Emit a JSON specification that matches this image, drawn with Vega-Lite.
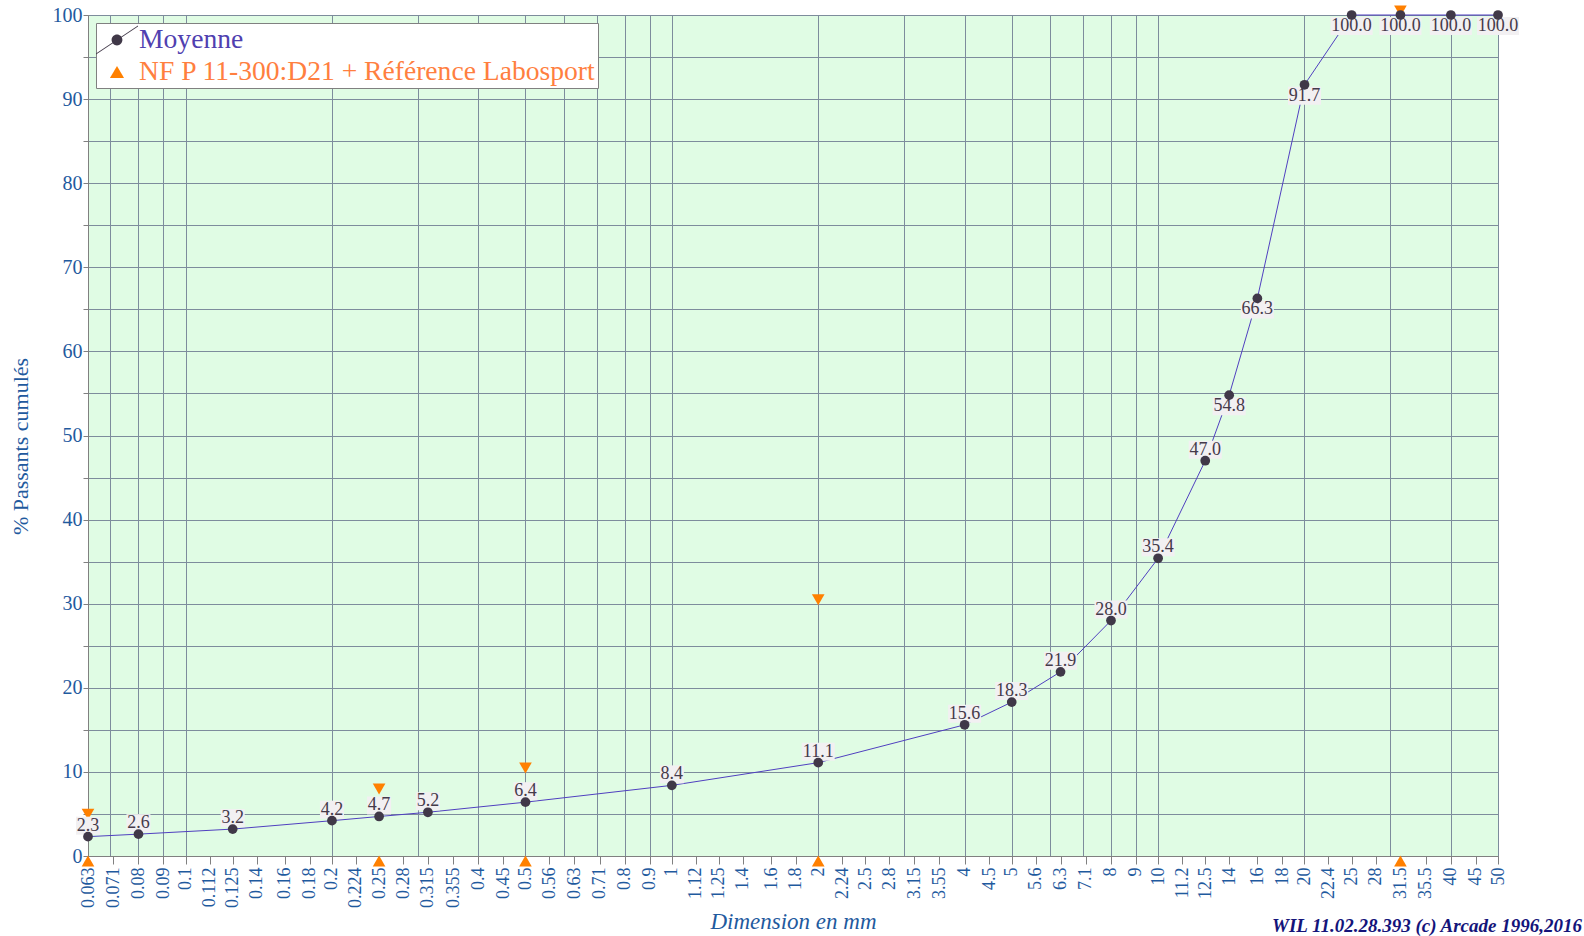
{
  "$schema": "https://vega.github.io/schema/vega-lite/v6.json",
  "width": 1410,
  "height": 841,
  "autosize": {"type": "none"},
  "padding": {"left": 88, "top": 15, "right": 86, "bottom": 80},
  "background": "white",
  "config": {
    "font": "Liberation Serif",
    "view": {"fill": "#e0fce4", "stroke": "#808080", "strokeWidth": 1}
  },
  "title": {
    "text": "WIL 11.02.28.393 (c) Arcade 1996,2016",
    "orient": "bottom",
    "anchor": "end",
    "frame": "group",
    "font": "Liberation Serif",
    "fontSize": 19,
    "fontStyle": "italic",
    "fontWeight": "bold",
    "color": "#14147a",
    "dx": 84,
    "dy": -17,
    "offset": 0
  },
  "datasets": {
    "moy": [
      {"d": 0.063, "p": 2.3}, {"d": 0.08, "p": 2.6}, {"d": 0.125, "p": 3.2},
      {"d": 0.2, "p": 4.2}, {"d": 0.25, "p": 4.7}, {"d": 0.315, "p": 5.2},
      {"d": 0.5, "p": 6.4}, {"d": 1, "p": 8.4}, {"d": 2, "p": 11.1},
      {"d": 4, "p": 15.6}, {"d": 5, "p": 18.3}, {"d": 6.3, "p": 21.9},
      {"d": 8, "p": 28.0}, {"d": 10, "p": 35.4}, {"d": 12.5, "p": 47.0},
      {"d": 14, "p": 54.8}, {"d": 16, "p": 66.3}, {"d": 20, "p": 91.7},
      {"d": 25, "p": 100}, {"d": 31.5, "p": 100}, {"d": 40, "p": 100}, {"d": 50, "p": 100}
    ],
    "nf": [
      {"d": 0.063, "lo": 0, "hi": 4.5},
      {"d": 0.25, "lo": 0, "hi": 7.5},
      {"d": 0.5, "lo": 0, "hi": 10},
      {"d": 2, "lo": 0, "hi": 30},
      {"d": 31.5, "lo": 0, "hi": 100}
    ]
  },
  "layer": [
    {
      "data": {"name": "moy"},
      "mark": {"type": "line", "color": "#5040c0", "strokeWidth": 1},
      "encoding": {
        "x": {
          "field": "d", "type": "quantitative",
          "scale": {"type": "log", "domain": [0.063, 50], "nice": false},
          "axis": {
            "orient": "bottom",
            "values": [0.07, 0.08, 0.09, 0.1, 0.2, 0.3, 0.4, 0.5, 0.6, 0.7, 0.8, 0.9, 1, 2, 3, 4, 5, 6, 7, 8, 9, 10, 20, 30, 40, 50],
            "grid": true, "gridColor": "#7d8c9c", "gridOpacity": 1,
            "labels": false, "ticks": false, "domain": false, "title": null
          }
        },
        "y": {
          "field": "p", "type": "quantitative",
          "scale": {"domain": [0, 100], "nice": false},
          "title": "% Passants cumulés",
          "axis": {
            "values": [0, 5, 10, 15, 20, 25, 30, 35, 40, 45, 50, 55, 60, 65, 70, 75, 80, 85, 90, 95, 100],
            "labelExpr": "datum.value % 10 === 0 ? datum.label : ''",
            "grid": true, "gridColor": "#7d8c9c", "gridOpacity": 1,
            "tickSize": 5, "tickColor": "#808080", "domainColor": "#808080",
            "labelFont": "Liberation Serif", "labelFontSize": 20, "labelColor": "#1f5a9e", "labelPadding": 1,
            "titleFont": "Liberation Serif", "titleFontSize": 22, "titleFontWeight": "normal", "titleColor": "#1f5a9e",
            "titlePadding": 20, "titleY": 431
          }
        }
      }
    },
    {
      "data": {"name": "nf"},
      "mark": {"type": "point", "shape": "triangle-down", "filled": true, "opacity": 1, "size": 160, "yOffset": -4, "color": "#ff8000"},
      "encoding": {
        "x": {"field": "d", "type": "quantitative", "axis": null},
        "y": {"field": "hi", "type": "quantitative", "title": "% Passants cumulés"}
      }
    },
    {
      "data": {"name": "nf"},
      "mark": {"type": "point", "shape": "triangle-up", "filled": true, "opacity": 1, "size": 160, "yOffset": 5, "color": "#ff8000"},
      "encoding": {
        "x": {"field": "d", "type": "quantitative", "axis": null},
        "y": {"field": "lo", "type": "quantitative", "title": "% Passants cumulés"}
      }
    },
    {
      "data": {"name": "moy"},
      "transform": [{"filter": "datum.p <= 50"}],
      "mark": {"type": "point", "filled": true, "opacity": 1, "size": 400, "color": "#f2f0f2"},
      "encoding": {
        "x": {"field": "d", "type": "quantitative", "axis": null},
        "y": {"field": "p", "type": "quantitative", "title": "% Passants cumulés"},
        "shape": {
          "condition": [
            {"test": "datum.p < 10", "value": "M -1.2 -2 H 1.2 V -0.2 H -1.2 Z"},
            {"test": "datum.p < 100", "value": "M -1.65 -2 H 1.65 V -0.2 H -1.65 Z"}
          ],
          "value": "M -2.1 -2 H 2.1 V -0.2 H -2.1 Z"
        }
      }
    },
    {
      "data": {"name": "moy"},
      "transform": [{"filter": "datum.p > 50"}],
      "mark": {"type": "point", "filled": true, "opacity": 1, "size": 400, "color": "#f2f0f2"},
      "encoding": {
        "x": {"field": "d", "type": "quantitative", "axis": null},
        "y": {"field": "p", "type": "quantitative", "title": "% Passants cumulés"},
        "shape": {
          "condition": [
            {"test": "datum.p < 100", "value": "M -1.65 0.2 H 1.65 V 2 H -1.65 Z"}
          ],
          "value": "M -2.1 0.2 H 2.1 V 2 H -2.1 Z"
        }
      }
    },
    {
      "data": {"name": "moy"},
      "transform": [{"filter": "datum.p <= 50"}],
      "mark": {"type": "text", "font": "Liberation Serif", "fontSize": 18, "color": "#453a4a", "baseline": "middle", "dy": -11},
      "encoding": {
        "x": {"field": "d", "type": "quantitative", "axis": null},
        "y": {"field": "p", "type": "quantitative", "title": "% Passants cumulés"},
        "text": {"field": "p", "type": "quantitative", "format": ".1f"}
      }
    },
    {
      "data": {"name": "moy"},
      "transform": [{"filter": "datum.p > 50"}],
      "mark": {"type": "text", "font": "Liberation Serif", "fontSize": 18, "color": "#453a4a", "baseline": "middle", "dy": 11},
      "encoding": {
        "x": {"field": "d", "type": "quantitative", "axis": null},
        "y": {"field": "p", "type": "quantitative", "title": "% Passants cumulés"},
        "text": {"field": "p", "type": "quantitative", "format": ".1f"}
      }
    },
    {
      "data": {"name": "moy"},
      "mark": {"type": "point", "filled": true, "opacity": 1, "size": 95, "color": "#403848"},
      "encoding": {
        "x": {
          "field": "d", "type": "quantitative",
          "axis": {
            "orient": "bottom",
            "values": [0.063, 0.071, 0.08, 0.09, 0.1, 0.112, 0.125, 0.14, 0.16, 0.18, 0.2, 0.224, 0.25, 0.28, 0.315, 0.355, 0.4, 0.45, 0.5, 0.56, 0.63, 0.71, 0.8, 0.9, 1, 1.12, 1.25, 1.4, 1.6, 1.8, 2, 2.24, 2.5, 2.8, 3.15, 3.55, 4, 4.5, 5, 5.6, 6.3, 7.1, 8, 9, 10, 11.2, 12.5, 14, 16, 18, 20, 22.4, 25, 28, 31.5, 35.5, 40, 45, 50],
            "format": "~g",
            "labelAngle": -90,
            "labelFont": "Liberation Serif", "labelFontSize": 18, "labelColor": "#1f5a9e",
            "labelOverlap": false, "labelFlush": false, "labelBound": false, "labelPadding": 3,
            "tickSize": 8, "tickColor": "#808080", "domainColor": "#808080",
            "grid": false,
            "title": "Dimension en mm",
            "titleFont": "Liberation Serif", "titleFontSize": 23, "titleFontStyle": "italic", "titleFontWeight": "normal",
            "titleColor": "#1f5a9e", "titlePadding": 3
          }
        },
        "y": {"field": "p", "type": "quantitative", "title": "% Passants cumulés"}
      }
    },
    {
      "data": {"name": "nf"},
      "transform": [{"filter": "false"}],
      "mark": {"type": "point", "filled": true, "opacity": 1},
      "encoding": {
        "x": {"field": "d", "type": "quantitative", "axis": null},
        "y": {"field": "hi", "type": "quantitative", "title": "% Passants cumulés"},
        "color": {
          "datum": "Moyenne",
          "scale": {"domain": ["Moyenne", "NF P 11-300:D21 + Référence Labosport"], "range": ["#403848", "#ff8000"]},
          "legend": {
            "title": null,
            "orient": "top-left",
            "offset": 8,
            "fillColor": "white",
            "strokeColor": "#808080",
            "padding": 2,
            "symbolSize": 900,
            "symbolOffset": 4,
            "symbolStrokeWidth": 0,
            "labelFont": "Liberation Serif",
            "labelFontSize": 27.6,
            "labelOffset": 7,
            "labelExpr": "datum.label + '\u00a0\u00a0'",
            "labelColor": {"expr": "datum.value === 'Moyenne' ? '#5040b0' : '#ff7f3f'"},
            "rowPadding": 2,
            "labelLimit": 800
          }
        },
        "shape": {
          "datum": "Moyenne",
          "scale": {
            "domain": ["Moyenne", "NF P 11-300:D21 + Référence Labosport"],
            "range": [
              "M -1.4 0.9 L 1.4 -0.966 L 1.4 -0.9 L -1.4 0.966 Z M 0.36 0 A 0.36 0.36 0 1 1 -0.36 0 A 0.36 0.36 0 1 1 0.36 0 Z",
              "M 0 -0.4 L 0.47 0.4 L -0.47 0.4 Z"
            ]
          },
          "legend": {
            "title": null,
            "orient": "top-left",
            "offset": 8,
            "fillColor": "white",
            "strokeColor": "#808080",
            "padding": 2,
            "symbolSize": 900,
            "symbolOffset": 4,
            "symbolStrokeWidth": 0,
            "labelFont": "Liberation Serif",
            "labelFontSize": 27.6,
            "labelOffset": 7,
            "labelExpr": "datum.label + '\u00a0\u00a0'",
            "labelColor": {"expr": "datum.value === 'Moyenne' ? '#5040b0' : '#ff7f3f'"},
            "rowPadding": 2,
            "labelLimit": 800
          }
        }
      }
    }
  ],
  "resolve": {"axis": {"x": "independent"}}
}
